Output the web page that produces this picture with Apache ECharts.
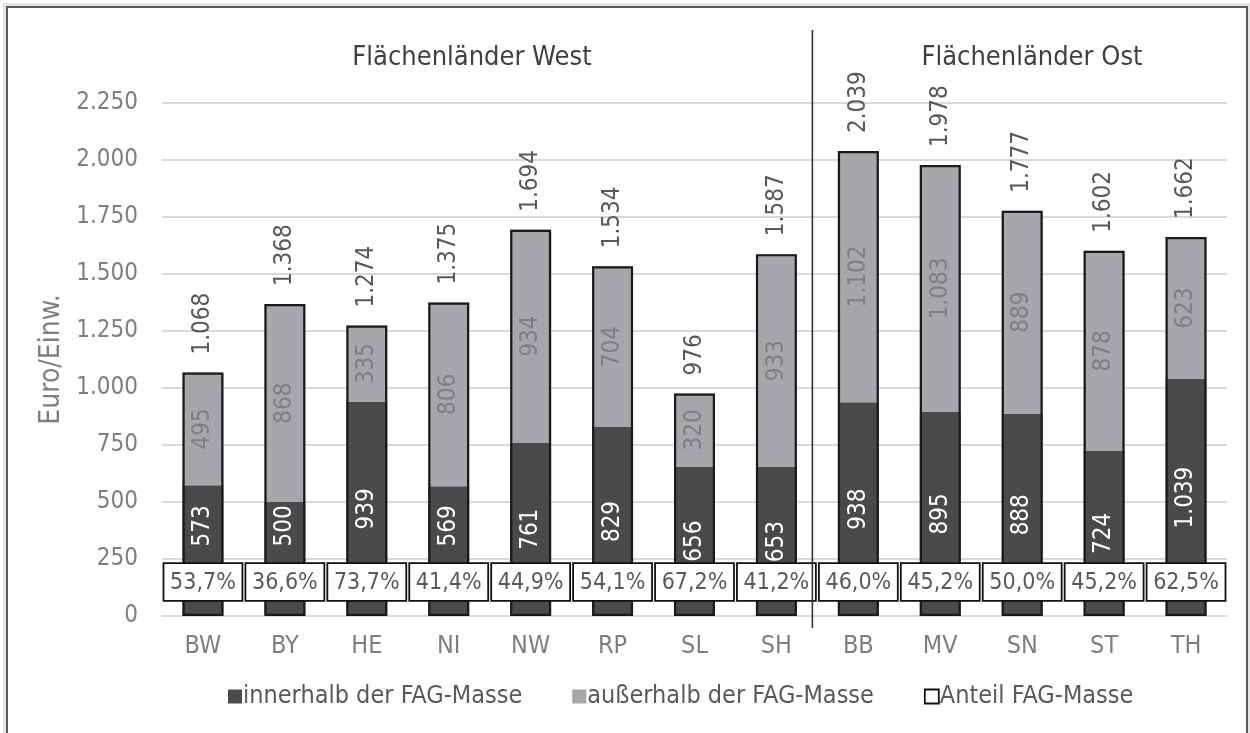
<!DOCTYPE html>
<html><head><meta charset="utf-8">
<script src="https://cdn.jsdelivr.net/npm/echarts@6/dist/echarts.min.js"></script>
<style>
html,body{margin:0;padding:0;background:#fff;overflow:hidden;}
#chart{position:absolute;left:0;top:0;width:1250px;height:733px;}
#frame{position:absolute;left:6px;top:6px;width:1238px;height:800px;border:2px solid #5a5a5a;box-shadow:0 0 0 3px #e4e4e4;pointer-events:none;}
</style></head><body>
<div id="chart"></div><div id="frame"></div>
<script>
const categories = ['BW','BY','HE','NI','NW','RP','SL','SH','BB','MV','SN','ST','TH'];
const innerhalb = [573,500,939,569,761,829,656,653,938,895,888,724,1039];
const ausserhalb = [495,868,335,806,934,704,320,933,1102,1083,889,878,623];
const gesamt = [1068,1368,1274,1375,1694,1534,976,1587,2039,1978,1777,1602,1662];
const anteil = [53.7,36.6,73.7,41.4,44.9,54.1,67.2,41.2,46.0,45.2,50.0,45.2,62.5];
const groupTitles = ['Flächenländer West','Flächenländer Ost'];

const FONT = "'DejaVu Sans Condensed','DejaVu Sans',sans-serif";
const BOX_TOP = 232, BOX_BOTTOM = 66;   // value range covered by the share boxes
const LIFTED_LABEL = 395;                // label centre for short dark segments
function fmt(n){ n=Math.round(n); return n>=1000 ? Math.floor(n/1000)+'.'+String(n%1000).padStart(3,'0') : String(n); }
function pct(p){ return p.toFixed(1).replace('.',',')+'%'; }

const chart = echarts.init(document.getElementById('chart'), null, {renderer:'canvas'});
const option = {
  animation:false,
  textStyle:{fontFamily:FONT},
  title:[
    {text:groupTitles[0], left:467, top:39, textAlign:'center', textStyle:{fontFamily:FONT,fontSize:27,fontWeight:'normal',color:'#404040'}},
    {text:groupTitles[1], left:1027, top:39, textAlign:'center', textStyle:{fontFamily:FONT,fontSize:27,fontWeight:'normal',color:'#404040'}}
  ],
  grid:{left:162,right:23,top:103,bottom:117,containLabel:false},
  legend:{
    left:223, top:679, itemWidth:14, itemHeight:14, itemGap:50,
    textStyle:{fontFamily:FONT,fontSize:25,color:'#595959',padding:[0,0,0,-4]},
    data:[
      {name:'innerhalb der FAG-Masse', icon:'rect'},
      {name:'außerhalb der FAG-Masse', icon:'rect'},
      {name:'Anteil FAG-Masse', icon:'rect', itemStyle:{color:'#fff',borderColor:'#111',borderWidth:1.8}}
    ]
  },
  xAxis:{
    type:'category', data:categories,
    axisLine:{show:true,lineStyle:{color:'#d9d9d9',width:2}},
    axisTick:{show:false},
    axisLabel:{fontFamily:FONT,fontSize:25,color:'#7f7f7f',margin:18}
  },
  yAxis:{
    type:'value', min:0, max:2250, interval:250,
    name:'Euro/Einw.', nameLocation:'middle', nameGap:94,
    nameTextStyle:{fontFamily:FONT,fontSize:28,color:'#7f7f7f'},
    axisLine:{show:false}, axisTick:{show:false},
    axisLabel:{fontFamily:FONT,fontSize:24,color:'#7f7f7f',margin:24,formatter:v=>fmt(v)},
    splitLine:{lineStyle:{color:'#d9d9d9',width:2}}
  },
  series:[
    {name:'innerhalb der FAG-Masse', type:'bar', stack:'s', barWidth:'50%', data:innerhalb,
     itemStyle:{color:'#4a4a4c'}, z:2,
     label:{show:true, position:'inside', rotate:90, color:'#fff', fontFamily:FONT, fontSize:24, formatter:p=>fmt(p.value)}},
    {name:'außerhalb der FAG-Masse', type:'bar', stack:'s', barWidth:'50%', data:ausserhalb,
     itemStyle:{color:'#a6a7ab'}, z:2,
     label:{show:true, position:'inside', rotate:90, color:'#7f7f7f', fontFamily:FONT, fontSize:24, formatter:p=>fmt(p.value)}},
    {name:'Gesamt', type:'bar', barWidth:'50%', barGap:'-100%', data:gesamt, z:3,
     itemStyle:{color:'rgba(0,0,0,0)', borderColor:'#1a1a1a', borderWidth:2.2},
     label:{show:true, position:'top', rotate:90, align:'left', verticalAlign:'middle', distance:18, color:'#595959', fontFamily:FONT, fontSize:24, formatter:p=>fmt(p.value)}},
    {name:'Anteil FAG-Masse', type:'custom', z:5,
     itemStyle:{color:'#fff',borderColor:'#111'},
     data:categories.map((c,i)=>[i, anteil[i]]),
     renderItem:function(params, api){
       const i = api.value(0), p = api.value(1);
       const t = api.coord([i, BOX_TOP]), b = api.coord([i, BOX_BOTTOM]);
       const w = api.size([1,0])[0];
       return {type:'group', children:[
         {type:'rect', shape:{x:t[0]-w/2+1.5, y:t[1], width:w-3, height:b[1]-t[1]}, style:{fill:'#fff', stroke:'#111', lineWidth:1.8}},
         {type:'text', style:{text:pct(p), x:t[0], y:(t[1]+b[1])/2+1, align:'center', verticalAlign:'middle', font:'23px '+FONT, fill:'#595959'}}
       ]};
     }}
  ]
};
chart.setOption(option);

// short dark segments: move their label above the share box
const yPix = v => chart.convertToPixel({yAxisIndex:0}, v);
const darkData = innerhalb.map(v => {
  if (v/2 - 88 < BOX_TOP - 5) {
    return {value:v, label:{position:['50%', yPix(LIFTED_LABEL) - yPix(v)], align:'center', verticalAlign:'middle'}};
  }
  return v;
});
const xSH = chart.convertToPixel({xAxisIndex:0}, 7);
const xBB = chart.convertToPixel({xAxisIndex:0}, 8);
const sepX = (xSH + xBB)/2 - 5;
chart.setOption({
  series:[{name:'innerhalb der FAG-Masse', data:darkData}],
  graphic:[{type:'line', z:10, shape:{x1:sepX,y1:30,x2:sepX,y2:628}, style:{stroke:'#333',lineWidth:1.6}}]
});
</script>
</body></html>
